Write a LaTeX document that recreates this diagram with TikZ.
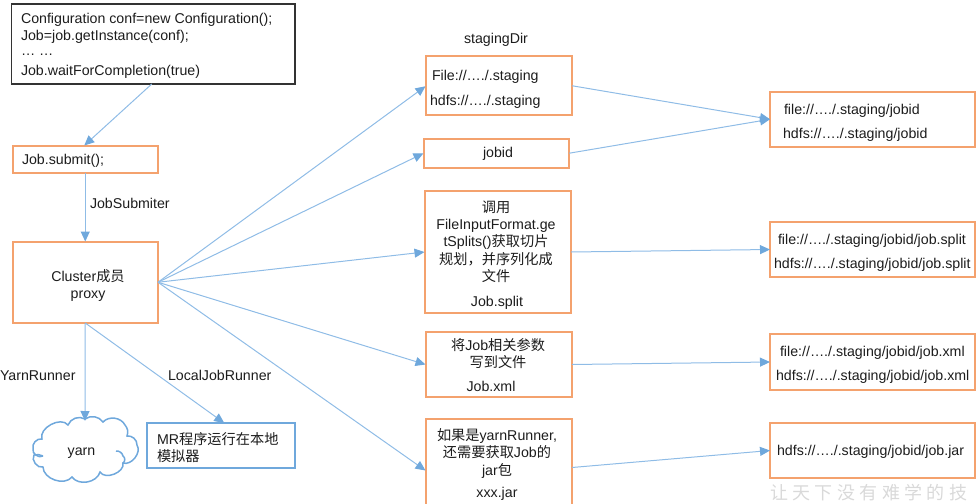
\documentclass[tikz,border=0pt]{standalone}
\usepackage{fontspec}
\setmainfont{Liberation Sans}
\newfontfamily\cjk{Noto Sans CJK SC}
\usetikzlibrary{arrows.meta,calc}
\definecolor{orangeline}{HTML}{F4A26E}
\definecolor{blueline}{HTML}{6FA8DC}
\definecolor{thinline}{HTML}{8FBCE6}
\definecolor{inktext}{HTML}{1C1C1C}
\tikzset{
  x=1pt,y=-1pt,
  every node/.style={font=\fontsize{14.2}{17.4}\selectfont,text=inktext,inner sep=0pt,outer sep=0pt},
  obox/.style={draw=orangeline,line width=2pt,rectangle,anchor=north west},
  kbox/.style={draw=black!80,line width=1.8pt,rectangle,anchor=north west},
  bbox/.style={draw=blueline,line width=2pt,rectangle,anchor=north west},
  conn/.style={draw=thinline,line width=1pt,-{Triangle[length=10pt,width=9pt,fill=blueline,color=blueline]}},
  lefttext/.style={anchor=west},
}
\newcommand{\boxat}[6]{\node[#1,minimum width=#5-#3,minimum height=#6-#4] (#2) at (#3,#4) {};}
\begin{document}
\begin{tikzpicture}
\useasboundingbox (0,0) rectangle (976,503);
\clip (0,0) rectangle (976,503);
\node[anchor=west,text=gray!30,font=\cjk\fontsize{18}{18}\selectfont] (mark) at (770,493) {让\hspace{4.4pt}天\hspace{4.4pt}下\hspace{4.4pt}没\hspace{4.4pt}有\hspace{4.4pt}难\hspace{4.4pt}学\hspace{4.4pt}的\hspace{4.4pt}技};
% boxes
\boxat{kbox}{code}{11.5}{4}{295}{84}
\boxat{obox}{submit}{12.5}{145.5}{158}{173}
\boxat{obox}{cluster}{12.5}{241.5}{158}{323}
\boxat{obox}{staging}{425.5}{56.5}{572}{115}
\boxat{obox}{jobid}{423.5}{138.5}{569}{168}
\boxat{obox}{split}{424.5}{191}{571}{313}
\boxat{obox}{xml}{425.5}{332}{572}{397}
\boxat{obox}{jar}{425.5}{419}{572}{512}
\boxat{obox}{rone}{770}{92}{974.5}{146.5}
\boxat{obox}{rtwo}{770}{222}{974.5}{277}
\boxat{obox}{rthree}{770}{334}{974.5}{390}
\boxat{obox}{rfour}{770}{423}{974.5}{478}
\boxat{bbox}{mr}{146.5}{423}{295}{468}
% cloud
\draw[blueline,line width=1.5pt] (43,456) to[bend left=70] (33,449) to[bend left=60] (42,439)
 to[bend left=80] (68,425) to[bend left=50] (85,419) to[bend left=45] (103,422)
 to[bend left=55] (125,425) to[bend left=30] (127,436) to[bend left=50] (137,445);
\draw[blueline,line width=1.5pt] (116,451) to[bend left=40] (123,456)
 to[bend right=-60] (123,463) to[bend left=10] (123,463);
\draw[blueline,line width=1.5pt] (137,445) to[bend left=70] (123,463)
 to[bend left=80] (100,472) to[bend left=65] (72,477) to[bend left=70] (43,467)
 to[bend left=70] (34,455) to[bend left=20] (43,456);
\coordinate (cloudtop) at (85,421);
\begin{scope}[yshift=-1.5pt]
\node (yarn) at (81.5,452) {yarn};
% code text
\node[lefttext] (l1) at (21,18) {Configuration conf=new Configuration();};
\node[lefttext] (l2) at (21,35) {Job=job.getInstance(conf);};
\node[lefttext] (l3) at (21,53) {… …};
\node[lefttext] (l4) at (21,70) {Job.waitForCompletion(true)};
\node[lefttext] (t1) at (22,159) {Job.submit();};
\node (t2) at (88,285) {\begin{tabular}{@{}c@{}}Cluster{\cjk 成员}\\proxy\end{tabular}};
\node[lefttext] (t3) at (90,202) {JobSubmiter};
\node[lefttext] (t4) at (0,374) {YarnRunner};
\node[lefttext] (t5) at (168,374) {LocalJobRunner};
\node (t6) at (496,38) {stagingDir};
\node[lefttext] (s1) at (432,75) {File://…./.staging};
\node[lefttext] (s2) at (430,100) {hdfs://…./.staging};
\node (j1) at (498,152) {jobid};
\node (sp) at (496,242) {\begin{tabular}{@{}c@{}}{\cjk 调用}\\FileInputFormat.ge\\tSplits(){\cjk 获取切片}\\{\cjk 规划，并序列化成}\\{\cjk 文件}\end{tabular}};
\node (sp2) at (497,301) {Job.split};
\node (x1) at (498,354) {\begin{tabular}{@{}c@{}}{\cjk 将}Job{\cjk 相关参数}\\{\cjk 写到文件}\end{tabular}};
\node (x2) at (491,385) {Job.xml};
\node (y1) at (497,453) {\begin{tabular}{@{}c@{}}{\cjk 如果是}yarnRunner,\\{\cjk 还需要获取}Job{\cjk 的}\\jar{\cjk 包}\end{tabular}};
\node (y2) at (497,492) {xxx.jar};
\node[lefttext] (r11) at (784,109) {file://…./.staging/jobid};
\node[lefttext] (r12) at (783,133) {hdfs://…./.staging/jobid};
\node[lefttext] (r21) at (778,239) {file://…./.staging/jobid/job.split};
\node[lefttext] (r22) at (774,263) {hdfs://…./.staging/jobid/job.split};
\node[lefttext] (r31) at (780,351) {file://…./.staging/jobid/job.xml};
\node[lefttext] (r32) at (776,375) {hdfs://…./.staging/jobid/job.xml};
\node[lefttext] (r41) at (777,450) {hdfs://…./.staging/jobid/job.jar};
\node[anchor=north west,align=left] (m1) at (157,431) {MR{\cjk 程序运行在本地}\\{\cjk 模拟器}};
\end{scope}
% connectors
\draw[conn] ([xshift=-1.5pt]code.south) -- ([xshift=-1pt]submit.north);
\draw[conn] (submit) -- (cluster);
\draw[conn] (cluster.south) -- (cloudtop);
\draw[conn] (cluster.south) -- ([xshift=3.5pt]mr.north);
\draw[conn] (cluster.east) -- ([yshift=-0.5pt]staging.west);
\draw[conn] (cluster.east) -- (jobid.west);
\draw[conn] (cluster.east) -- (split.west);
\draw[conn] (cluster.east) -- (xml.west);
\draw[conn] (cluster.east) -- ([yshift=-5pt]jar.west);
\draw[conn] (staging.east) -- (rone.west);
\draw[conn] (jobid.east) -- (rone.west);
\draw[conn] (split.east) -- (rtwo.west);
\draw[conn] (xml.east) -- (rthree.west);
\draw[conn] ([yshift=-2pt]jar.east) -- (rfour.west);
\end{tikzpicture}
\end{document}
